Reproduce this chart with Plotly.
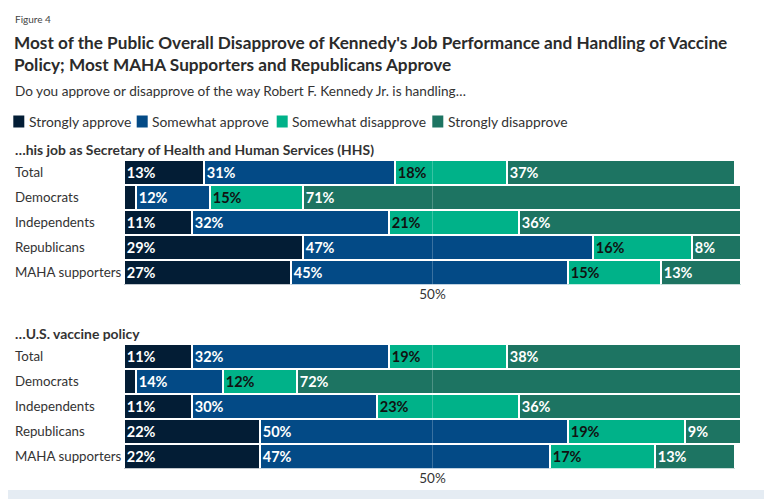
import plotly.graph_objects as go

groups = ["Total", "Democrats", "Independents", "Republicans", "MAHA supporters"]
series_names = ["Strongly approve", "Somewhat approve", "Somewhat disapprove", "Strongly disapprove"]

hhs_strongly_approve = [13, 2, 11, 29, 27]
hhs_somewhat_approve = [31, 12, 32, 47, 45]
hhs_somewhat_disapprove = [18, 15, 21, 16, 15]
hhs_strongly_disapprove = [37, 71, 36, 8, 13]

vac_strongly_approve = [11, 2, 11, 22, 22]
vac_somewhat_approve = [32, 14, 30, 50, 47]
vac_somewhat_disapprove = [19, 12, 23, 19, 17]
vac_strongly_disapprove = [38, 72, 36, 9, 13]

panel_titles = ["…his job as Secretary of Health and Human Services (HHS)", "…U.S. vaccine policy"]
tick_vals = [50]
tick_text = ["50%"]

colors = ["#031d35", "#034a86", "#00b289", "#1d7462"]
text_colors = ["#ffffff", "#ffffff", "#111111", "#ffffff"]

# page body has an 8px margin: figure origin sits at (8, 8) in the window
OFF = 8
W, H = 772 - OFF, 499 - OFF
FONT = "Lato"
TXT = "#333333"


def px(y):
    return 1 - (y - OFF) / H


def pxx(x):
    return (x - OFF) / W


fig = go.Figure()

panels = [
    ([hhs_strongly_approve, hhs_somewhat_approve, hhs_somewhat_disapprove, hhs_strongly_disapprove], "x", "y"),
    ([vac_strongly_approve, vac_somewhat_approve, vac_somewhat_disapprove, vac_strongly_disapprove], "x2", "y2"),
]

for data, xa, ya in panels:
    for i, vals in enumerate(data):
        fig.add_trace(go.Bar(
            y=groups, x=vals, orientation="h", name=series_names[i],
            marker=dict(color=colors[i], line=dict(color="white", width=2.5)),
            text=[f"{v}%" if v >= 5 else "" for v in vals],
            textposition="inside", insidetextanchor="start", textangle=0,
            insidetextfont=dict(family=FONT, size=14.5, color=text_colors[i], weight="bold"),
            showlegend=False, xaxis=xa, yaxis=ya, hoverinfo="skip",
        ))

x_dom = [pxx(124), pxx(741)]
ax_common = dict(range=[0, 100], domain=x_dom, tickvals=tick_vals, ticktext=tick_text,
                 showgrid=False, zeroline=False, showline=False, ticks="",
                 tickfont=dict(family=FONT, size=13.5, color=TXT), fixedrange=True)
ay_common = dict(categoryorder="array", categoryarray=groups, autorange="reversed",
                 showticklabels=False, showgrid=False, zeroline=False, ticks="", fixedrange=True)

fig.update_layout(
    width=W, height=H,
    margin=dict(l=0, r=0, t=0, b=0),
    paper_bgcolor="white", plot_bgcolor="white",
    barmode="stack", bargap=0.0,
    showlegend=False,
    uniformtext=dict(mode=False),
    xaxis=dict(**ax_common, anchor="y"),
    yaxis=dict(**ay_common, domain=[px(284.5), px(160)], anchor="x"),
    xaxis2=dict(**ax_common, anchor="y2"),
    yaxis2=dict(**ay_common, domain=[px(468.5), px(344)], anchor="x2"),
)

annotations = []
annotations.append(dict(text="Figure 4", x=pxx(13), y=px(19), xref="paper", yref="paper",
                        xanchor="left", yanchor="middle", showarrow=False,
                        font=dict(family=FONT, size=10, color="#444444")))
annotations.append(dict(
    text="<b>Most of the Public Overall Disapprove of Kennedy's Job Performance and Handling of Vaccine<br>Policy; Most MAHA Supporters and Republicans Approve</b>",
    x=pxx(12), y=px(53.5), xref="paper", yref="paper", xanchor="left", yanchor="middle",
    align="left", showarrow=False, font=dict(family=FONT, size=17.2, color="#2b2b2b")))
annotations.append(dict(text="Do you approve or disapprove of the way Robert F. Kennedy Jr. is handling…",
                        x=pxx(13), y=px(91), xref="paper", yref="paper", xanchor="left", yanchor="middle",
                        showarrow=False, font=dict(family=FONT, size=13.6, color=TXT)))

# legend keys (drawn manually so keys sit tight against their labels)
legend_key_x = [13.3, 136.7, 276.7, 432.3]
shapes = []
for c, n, kx in zip(colors, series_names, legend_key_x):
    shapes.append(dict(type="rect", xref="paper", yref="paper", x0=pxx(kx), x1=pxx(kx + 11),
                       y0=px(127.5), y1=px(115.5), fillcolor=c, line=dict(width=0)))
    annotations.append(dict(text=n, x=pxx(kx + 13.5), y=px(121.5), xref="paper", yref="paper",
                            xanchor="left", yanchor="middle", showarrow=False,
                            font=dict(family=FONT, size=13.85, color=TXT)))

for k, (ttl, ya) in enumerate(zip(panel_titles, ["y", "y2"])):
    ty = [149, 333][k]
    annotations.append(dict(text=f"<b>{ttl}</b>", x=pxx(13), y=px(ty), xref="paper", yref="paper",
                            xanchor="left", yanchor="middle", showarrow=False,
                            font=dict(family=FONT, size=13.9, color=TXT)))
    for g in groups:
        annotations.append(dict(text=g, x=pxx(13), y=g, xref="paper", yref=ya,
                                xanchor="left", yanchor="middle", showarrow=False,
                                font=dict(family=FONT, size=13.3, color=TXT)))

fig.update_layout(annotations=annotations)

for xa, ya in [("x", "y"), ("x2", "y2")]:
    shapes.append(dict(type="line", xref=xa, yref=f"{ya} domain", x0=50, x1=50, y0=0, y1=1,
                       line=dict(color="rgba(255,255,255,0.22)", width=1), layer="above"))
shapes.append(dict(type="rect", xref="paper", yref="paper", x0=-0.02, x1=1.02, y0=-0.02, y1=px(490),
                   fillcolor="#e5ecf3", line=dict(width=0), layer="below"))
fig.update_layout(shapes=shapes)

fig.write_html("out.html")
